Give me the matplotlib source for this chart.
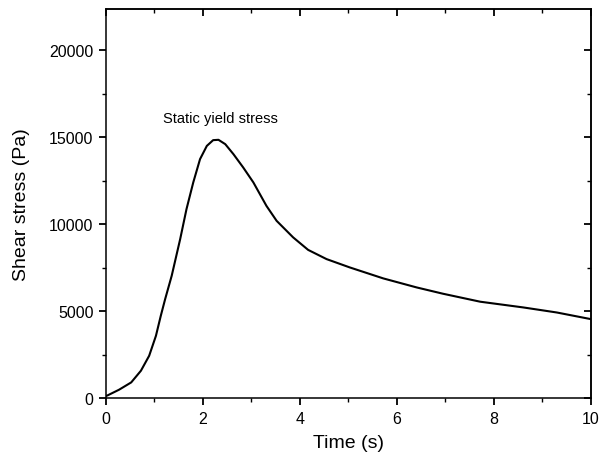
import numpy as np
import matplotlib.pyplot as plt
from matplotlib.ticker import MultipleLocator

plt.rcParams['font.family'] = ['Liberation Sans', 'DejaVu Sans']

# values
time_s = [0.0, 0.03, 0.27, 0.52, 0.72, 0.89, 1.03, 1.13, 1.22, 1.355, 1.53,
          1.66, 1.80, 1.94, 2.08, 2.21, 2.32, 2.46, 2.63, 2.83, 3.04, 3.31,
          3.52, 3.86, 4.17, 4.55, 5.03, 5.72, 6.41, 6.95, 7.72, 8.61, 9.30, 10.0]
stress_pa = [120, 150, 480, 900, 1570, 2430, 3580, 4730, 5690, 7030, 9140,
             10860, 12400, 13740, 14500, 14830, 14850, 14600, 14020, 13260, 12400, 11050,
             10190, 9240, 8520, 7990, 7510, 6880, 6360, 6000, 5540, 5210, 4920, 4540]

fig = plt.figure(figsize=(6, 4.64), dpi=100)
ax = fig.add_axes([0.1767, 0.14, 0.8078, 0.8395])

ax.plot(time_s, stress_pa, color='black', lw=1.5, solid_joinstyle='round')
ax.text(1.18, 16100, 'Static yield stress', fontsize=10.5, va='center', ha='left')

ax.set_xlim(0, 10)
ax.set_ylim(0, 22400)
ax.xaxis.set_major_locator(MultipleLocator(2))
ax.xaxis.set_minor_locator(MultipleLocator(1))
ax.yaxis.set_major_locator(MultipleLocator(5000))
ax.yaxis.set_minor_locator(MultipleLocator(2500))
ax.tick_params(which='major', direction='out', length=5, width=1.3, labelsize=11.5, pad=4)
ax.tick_params(which='minor', direction='out', length=3, width=1.0)

# top and right: ticks inside, no labels
top = ax.secondary_xaxis('top')
top.xaxis.set_major_locator(MultipleLocator(2))
top.xaxis.set_minor_locator(MultipleLocator(1))
top.set_xticklabels([])
right = ax.secondary_yaxis('right')
right.yaxis.set_major_locator(MultipleLocator(5000))
right.yaxis.set_minor_locator(MultipleLocator(2500))
right.set_yticklabels([])
for sec in (top, right):
    sec.tick_params(which='major', direction='in', length=5, width=1.3)
    sec.tick_params(which='minor', direction='in', length=3, width=1.0)
    for s in sec.spines.values():
        s.set_linewidth(1.1)

for s in ax.spines.values():
    s.set_linewidth(1.1)

ax.set_xlabel('Time (s)', fontsize=14, labelpad=6)
ax.set_ylabel('Shear stress (Pa)', fontsize=14, labelpad=14)

fig.savefig('out.png', dpi=100)
